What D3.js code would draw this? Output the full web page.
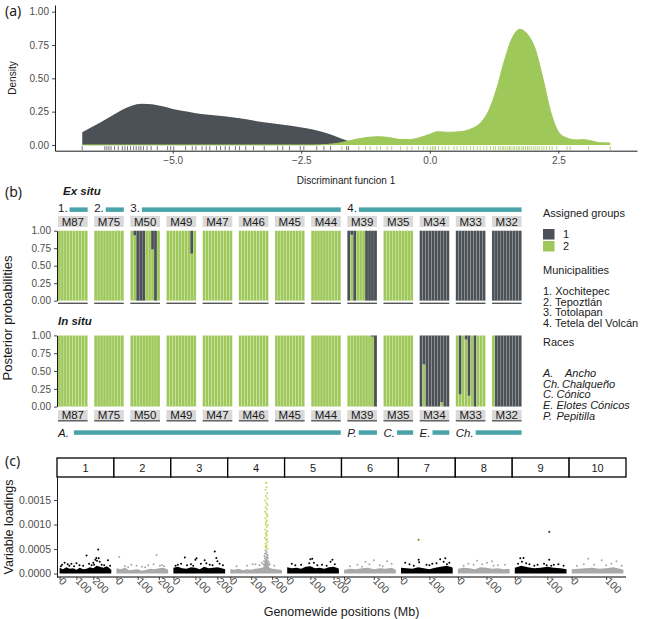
<!DOCTYPE html>
<html lang="en">
  <head>
    <meta charset="utf-8" />
    <title>Discriminant analysis, membership and loadings</title>
    <style>
      body {
        margin: 0;
        background-color: #fff;
      }
      svg {
        display: block;
        font-family: 'Liberation Sans', Arial, sans-serif;
      }
    </style>
  </head>

  <body>
    <div class="container"></div>
    <script src="https://cdn.jsdelivr.net/npm/d3@7"></script>
    <script>
      const darkCol = '#4b5156';
      const greenCol = '#9ec859';
      const tealCol = '#49a3a9';
      const tickCol = '#4d4d4d';

      // ---------- (a) density of discriminant function 1 ----------
      const densGroup1 = [
        [-6.76, 0.095], [-6.6, 0.13], [-6.4, 0.17], [-6.2, 0.215], [-6.0, 0.26],
        [-5.8, 0.295], [-5.6, 0.31], [-5.4, 0.305], [-5.2, 0.29], [-5.0, 0.27],
        [-4.7, 0.25], [-4.4, 0.23], [-4.0, 0.215], [-3.7, 0.2], [-3.3, 0.175],
        [-3.0, 0.16], [-2.7, 0.145], [-2.4, 0.125], [-2.1, 0.1], [-1.9, 0.075],
        [-1.7, 0.045], [-1.5, 0.02], [-1.3, 0.008], [-1.0, 0.002], [-0.5, 0], [3.51, 0],
      ];
      const densGroup2 = [
        [-6.76, 0], [-2.3, 0], [-2.0, 0.004], [-1.8, 0.012], [-1.6, 0.028],
        [-1.4, 0.045], [-1.2, 0.057], [-1.0, 0.062], [-0.8, 0.056], [-0.6, 0.042],
        [-0.4, 0.04], [-0.2, 0.055], [0.0, 0.08], [0.15, 0.1], [0.35, 0.095],
        [0.6, 0.1], [0.8, 0.12], [1.0, 0.17], [1.15, 0.26], [1.3, 0.42],
        [1.45, 0.63], [1.6, 0.8], [1.75, 0.868], [1.9, 0.83], [2.05, 0.72],
        [2.2, 0.5], [2.35, 0.25], [2.5, 0.1], [2.65, 0.055], [2.85, 0.038],
        [3.0, 0.04], [3.15, 0.03], [3.3, 0.017], [3.51, 0.015],
      ];
      const rugGroup1 = [
        -6.76, -6.32, -6.28, -6.24, -6.2, -6.13, -6.06, -5.98, -5.93, -5.88,
        -5.82, -5.76, -5.71, -5.66, -5.62, -5.57, -5.5, -5.42, -5.3, -5.1,
        -5.04, -4.98, -4.75, -4.62, -4.55, -4.43, -4.35, -4.28, -4.15, -4.07,
        -3.98, -3.9, -3.78, -3.7, -3.58, -3.43, -3.22, -2.96, -2.86, -2.73,
        -2.52, -2.45, -2.2, -2.06, -1.93, -1.62, -1.58,
      ];
      const rugGroup2 = [
        -1.71, -1.61, -1.38, -1.25, -1.16, -1.03, -0.96, -0.83, -0.74, -0.57,
        -0.44, -0.35, -0.22, -0.12, -0.05, 0.01, 0.05, 0.08, 0.11, 0.17,
        0.24, 0.3, 0.37, 0.47, 0.53, 0.6, 0.66, 0.72, 0.79, 0.85,
        0.92, 0.98, 1.05, 1.11, 1.18, 1.24, 1.28, 1.34, 1.37, 1.41,
        1.44, 1.48, 1.52, 1.55, 1.58, 1.62, 1.65, 1.69, 1.72, 1.75,
        1.79, 1.82, 1.86, 1.9, 1.93, 1.97, 2.01, 2.05, 2.09, 2.13,
        2.18, 2.22, 2.27, 2.33, 2.38, 2.47, 2.67, 2.73, 3.09, 3.51,
      ];
      const xTicksA = [-5, -2.5, 0, 2.5];
      const yTicksA = [0, 0.25, 0.5, 0.75, 1];

      // ---------- (b) posterior probabilities (share of group 1 per individual) ----------
      const populations = ['M87', 'M75', 'M50', 'M49', 'M47', 'M46', 'M45', 'M44', 'M39', 'M35', 'M34', 'M33', 'M32'];
      const exSituGroup1 = [
        [0, 0, 0, 0, 0, 0, 0, 0, 0, 0],
        [0, 0, 0, 0, 0, 0, 0, 0, 0, 0],
        [0, 0.07, 1, 1, 1, 0, 0, 0.27, 1, 0],
        [0, 0, 0, 0, 0, 0, 0, 0, 0.33, 0],
        [0, 0, 0, 0, 0, 0, 0, 0, 0, 0],
        [0, 0, 0, 0, 0, 0, 0, 0, 0, 0],
        [0, 0, 0, 0, 0, 0, 0, 0, 0, 0],
        [0, 0, 0, 0, 0, 0, 0, 0, 0, 0],
        [1, 0.06, 1, 0, 0, 0, 1, 1, 1, 1],
        [0, 0, 0, 0, 0, 0, 0, 0, 0, 0],
        [1, 1, 1, 1, 1, 1, 1, 1, 1, 1],
        [1, 1, 1, 1, 1, 1, 1, 1, 1, 1],
        [1, 1, 1, 1, 1, 1, 1, 1, 1, 1],
      ];
      const inSituGroup1 = [
        [0, 0, 0, 0, 0, 0, 0, 0, 0, 0],
        [0, 0, 0, 0, 0, 0, 0, 0, 0, 0],
        [0, 0, 0, 0, 0, 0, 0, 0, 0, 0],
        [0, 0, 0, 0, 0, 0, 0, 0, 0, 0],
        [0, 0, 0, 0, 0, 0, 0, 0, 0, 0],
        [0, 0, 0, 0, 0, 0, 0, 0, 0, 0],
        [0, 0, 0, 0, 0, 0, 0, 0, 0, 0],
        [0, 0, 0, 0, 0, 0, 0, 0, 0, 0],
        [0, 0, 0, 0, 0, 0, 0, 0, 0.02, 1],
        [0, 0, 0, 0, 0, 0, 0, 0, 0, 0],
        [1, 0.41, 1, 1, 1, 1, 1, 0.94, 1, 1],
        [0, 0.83, 0, 0.06, 0.85, 0, 1, 0, 0, 0],
        [0, 1, 1, 1, 1, 1, 1, 1, 1, 1],
      ];
      const yTicksB = [0, 0.25, 0.5, 0.75, 1];
      const municipalitySpans = [
        ['1.', 'M87', 'M87'],
        ['2.', 'M75', 'M75'],
        ['3.', 'M50', 'M44'],
        ['4.', 'M39', 'M32'],
      ];
      const raceSpans = [
        ['A.', 'M87', 'M44'],
        ['P.', 'M39', 'M39'],
        ['C.', 'M35', 'M35'],
        ['E.', 'M34', 'M34'],
        ['Ch.', 'M33', 'M32'],
      ];
      const groupLabels = ['1', '2'];
      const municipalityNames = ['1. Xochitepec', '2. Tepoztlán', '3. Totolapan', '4. Tetela del Volcán'];
      const raceAbbrev = ['A.', 'Ch.', 'C.', 'E.', 'P.'];
      const raceNames = ['Ancho', 'Chalqueño', 'Cónico', 'Elotes Cónicos', 'Pepitilla'];

      // ---------- (c) variable loadings along the genome ----------
      const chromosomes = ['1', '2', '3', '4', '5', '6', '7', '8', '9', '10'];
      const chromLength = [307, 244, 235, 247, 223, 174, 182, 181, 159, 150];
      // upper edge of the dense cloud of loadings, [Mb, loading]
      const coreBand = [
        [[0, 1.2e-4], [20, 0.9e-4], [40, 1.3e-4], [60, 1.0e-4], [80, 1.1e-4], [100, 0.8e-4], [120, 1.2e-4], [140, 0.9e-4], [160, 1.0e-4], [180, 1.3e-4], [200, 1.1e-4], [220, 1.6e-4], [240, 1.4e-4], [260, 1.2e-4], [280, 1.5e-4], [300, 1.0e-4], [307, 0.8e-4]],
        [[0, 1.1e-4], [20, 0.9e-4], [40, 1.2e-4], [60, 0.7e-4], [80, 0.8e-4], [100, 0.9e-4], [120, 0.6e-4], [140, 0.8e-4], [160, 1.0e-4], [180, 0.9e-4], [200, 1.1e-4], [220, 1.2e-4], [240, 0.9e-4], [244, 0.7e-4]],
        [[0, 1.2e-4], [20, 1.4e-4], [40, 1.1e-4], [60, 1.0e-4], [80, 1.3e-4], [100, 1.2e-4], [120, 0.9e-4], [140, 1.4e-4], [160, 1.1e-4], [180, 1.2e-4], [200, 1.3e-4], [220, 1.1e-4], [235, 0.9e-4]],
        [[0, 0.9e-4], [20, 0.8e-4], [40, 1.0e-4], [60, 0.7e-4], [80, 0.9e-4], [100, 0.8e-4], [120, 1.0e-4], [140, 1.1e-4], [158, 1.3e-4], [165, 2.6e-4], [172, 3.3e-4], [179, 2.4e-4], [186, 1.2e-4], [200, 1.0e-4], [220, 0.9e-4], [240, 0.8e-4], [247, 0.7e-4]],
        [[0, 1.3e-4], [20, 1.1e-4], [40, 1.2e-4], [60, 1.0e-4], [80, 1.4e-4], [100, 1.5e-4], [120, 1.1e-4], [140, 1.2e-4], [160, 1.0e-4], [180, 1.3e-4], [200, 1.4e-4], [220, 1.1e-4], [223, 0.9e-4]],
        [[0, 0.8e-4], [20, 1.0e-4], [40, 0.9e-4], [60, 1.1e-4], [80, 1.2e-4], [100, 0.9e-4], [120, 1.1e-4], [140, 1.0e-4], [160, 1.2e-4], [174, 0.8e-4]],
        [[0, 1.2e-4], [20, 1.1e-4], [40, 1.0e-4], [60, 1.3e-4], [80, 1.1e-4], [100, 0.9e-4], [120, 1.2e-4], [140, 1.4e-4], [160, 1.6e-4], [180, 1.3e-4], [182, 1.0e-4]],
        [[0, 1.0e-4], [20, 1.2e-4], [40, 1.1e-4], [60, 0.9e-4], [80, 1.3e-4], [100, 1.2e-4], [120, 1.0e-4], [140, 1.1e-4], [160, 0.9e-4], [180, 1.0e-4], [181, 0.8e-4]],
        [[0, 1.2e-4], [20, 1.6e-4], [40, 1.3e-4], [60, 1.1e-4], [80, 1.2e-4], [100, 1.4e-4], [120, 1.2e-4], [140, 1.1e-4], [159, 0.9e-4]],
        [[0, 0.9e-4], [20, 1.0e-4], [40, 1.1e-4], [60, 1.2e-4], [80, 1.0e-4], [100, 1.1e-4], [120, 1.3e-4], [140, 1.0e-4], [150, 0.8e-4]],
      ];
      // individual loadings standing out of the cloud, [Mb, loading]
      const scatterLoadings = [
        [[15, 1.8e-4], [30, 2.2e-4], [48, 1.9e-4], [70, 2.0e-4], [100, 2.1e-4], [118, 1.7e-4], [140, 1.6e-4], [160, 3.7e-4], [175, 2.0e-4], [190, 1.7e-4], [200, 2.2e-4], [212, 2.8e-4], [218, 3.2e-4], [222, 2.6e-4], [229, 4.9e-4], [232, 3.1e-4], [238, 2.4e-4], [250, 1.8e-4], [287, 2.7e-4], [300, 1.6e-4], [8, 1.5e-4], [58, 1.6e-4], [86, 1.5e-4], [205, 1.8e-4], [265, 1.7e-4]],
        [[13, 3.4e-4], [40, 1.5e-4], [70, 1.8e-4], [95, 1.6e-4], [120, 1.4e-4], [150, 1.7e-4], [175, 1.9e-4], [189, 3.8e-4], [205, 1.6e-4], [225, 1.5e-4], [55, 1.3e-4], [135, 1.3e-4], [215, 1.7e-4]],
        [[20, 1.8e-4], [35, 2.0e-4], [52, 3.3e-4], [80, 1.9e-4], [100, 2.8e-4], [105, 3.1e-4], [125, 2.0e-4], [142, 2.7e-4], [150, 2.1e-4], [165, 1.8e-4], [188, 4.5e-4], [195, 3.2e-4], [200, 2.5e-4], [210, 2.0e-4], [225, 1.7e-4], [10, 1.6e-4], [62, 1.7e-4], [90, 1.6e-4], [178, 1.7e-4]],
        [[30, 1.5e-4], [80, 1.6e-4], [107, 1.9e-4], [120, 1.9e-4], [140, 1.7e-4], [150, 2.2e-4], [168, 4.7e-4], [174, 4.4e-4], [166, 4.1e-4], [178, 3.8e-4], [163, 3.6e-4], [173, 3.4e-4], [180, 3.2e-4], [169, 3.0e-4], [177, 2.7e-4], [161, 2.5e-4], [183, 2.4e-4], [185, 2.0e-4], [158, 1.9e-4], [188, 1.8e-4], [210, 1.6e-4], [171, 4.0e-4], [165, 3.1e-4], [176, 3.5e-4]],
        [[20, 2.0e-4], [60, 1.8e-4], [95, 2.1e-4], [100, 2.9e-4], [108, 3.0e-4], [115, 2.2e-4], [150, 1.8e-4], [187, 2.4e-4], [195, 2.8e-4], [205, 1.9e-4], [35, 1.7e-4], [130, 1.7e-4], [170, 1.6e-4]],
        [[20, 1.5e-4], [45, 1.8e-4], [72, 2.4e-4], [85, 1.9e-4], [100, 2.7e-4], [120, 1.7e-4], [145, 2.5e-4], [160, 2.0e-4], [60, 1.4e-4], [130, 1.5e-4]],
        [[15, 2.2e-4], [30, 1.9e-4], [62, 2.8e-4], [64, 2.3e-4], [90, 1.8e-4], [110, 2.0e-4], [125, 2.1e-4], [138, 2.9e-4], [150, 2.4e-4], [156, 3.1e-4], [170, 2.2e-4], [45, 1.6e-4], [100, 1.7e-4], [162, 1.9e-4]],
        [[20, 1.6e-4], [37, 2.0e-4], [55, 1.8e-4], [67, 2.6e-4], [85, 1.9e-4], [102, 2.2e-4], [119, 2.5e-4], [140, 1.7e-4], [165, 1.8e-4], [125, 1.6e-4]],
        [[10, 2.0e-4], [17, 3.1e-4], [22, 2.4e-4], [27, 3.2e-4], [35, 2.1e-4], [45, 1.9e-4], [70, 1.8e-4], [90, 2.0e-4], [106, 2.8e-4], [120, 1.8e-4], [134, 1.9e-4], [150, 1.6e-4], [60, 1.6e-4], [98, 1.7e-4], [112, 1.6e-4]],
        [[15, 1.6e-4], [35, 1.9e-4], [48, 3.0e-4], [65, 1.8e-4], [87, 2.7e-4], [100, 1.7e-4], [115, 2.0e-4], [130, 2.5e-4], [145, 1.6e-4]],
      ];
      // loadings flagged as outliers, [chromosome index, Mb, loading]
      const outlierLoadings = [
        [3, 171, 18.5e-4], [3, 174, 17.6e-4], [3, 168, 17.1e-4], [3, 176, 16.4e-4], [3, 170, 15.8e-4],
        [3, 177, 15.3e-4], [3, 167, 14.9e-4], [3, 173, 14.4e-4], [3, 178, 14.0e-4], [3, 169, 13.5e-4],
        [3, 175, 13.1e-4], [3, 166, 12.6e-4], [3, 172, 12.2e-4], [3, 177, 11.7e-4], [3, 168, 11.3e-4],
        [3, 174, 10.8e-4], [3, 170, 10.4e-4], [3, 179, 9.9e-4], [3, 173, 9.5e-4], [3, 167, 9.0e-4],
        [3, 176, 8.6e-4], [3, 170, 8.2e-4], [3, 174, 7.7e-4], [3, 166, 7.3e-4], [3, 172, 6.9e-4],
        [3, 177, 6.5e-4], [3, 169, 6.1e-4], [3, 174, 5.7e-4], [3, 171, 5.3e-4], [3, 178, 5.0e-4],
        [3, 175, 12.0e-4], [3, 169, 10.0e-4], [3, 172, 8.0e-4], [3, 176, 7.0e-4], [3, 168, 5.5e-4],
        [6, 62, 6.9e-4],
        [8, 106, 8.5e-4],
      ];
      const outlierColors = ['#c9d65c', '#6e7f2c', '#3f4a22'];
      const yTicksC = [0, 0.0005, 0.001, 0.0015];
      const xTicksC = [0, 100, 200];

      const svg = d3.select('div.container').append('svg').attr('width', 647).attr('height', 619);

      function label(x, y, txt, o = {}) {
        const t = svg
          .append('text')
          .attr('x', x)
          .attr('y', y)
          .text(txt)
          .style('font-size', (o.size || 11) + 'px')
          .attr('fill', o.fill || '#1a1a1a');
        if (o.anchor) t.attr('text-anchor', o.anchor);
        if (o.italic) t.style('font-style', 'italic');
        if (o.bold) t.style('font-weight', 'bold');
        if (o.family) t.style('font-family', o.family);
        if (o.rotate) t.attr('transform', `rotate(${o.rotate},${x},${y})`);
        return t;
      }

      function styleAxis(g, size) {
        g.selectAll('path').attr('stroke', '#000').attr('stroke-width', 0.9);
        g.selectAll('line').attr('stroke', '#333').attr('stroke-width', 0.9);
        g.selectAll('text').attr('fill', tickCol).style('font-size', size + 'px').style('font-family', "'Liberation Sans', Arial, sans-serif");
      }

      // ===== panel (a) =====
      const xA = d3.scaleLinear().domain([-7.29, 4.03]).range([55, 637]);
      const yA = d3.scaleLinear().domain([-0.043, 1.05]).range([150.7, 5]);

      const areaA = d3
        .area()
        .x((d) => xA(d[0]))
        .y0(yA(0))
        .y1((d) => yA(d[1]))
        .curve(d3.curveMonotoneX);
      const lineA = d3
        .line()
        .x((d) => xA(d[0]))
        .y((d) => yA(d[1]))
        .curve(d3.curveMonotoneX);

      svg.append('path').datum(densGroup1).attr('d', areaA).attr('fill', darkCol);
      svg.append('path').datum(densGroup2).attr('d', areaA).attr('fill', greenCol);
      svg.append('path').datum(densGroup2).attr('d', lineA).attr('fill', 'none').attr('stroke', greenCol).attr('stroke-width', 1);

      svg
        .append('g')
        .selectAll('line')
        .data(rugGroup1)
        .join('line')
        .attr('x1', (d) => xA(d))
        .attr('x2', (d) => xA(d))
        .attr('y1', 146.2)
        .attr('y2', 150.2)
        .attr('stroke', darkCol)
        .attr('stroke-width', 0.8);
      svg
        .append('g')
        .selectAll('line')
        .data(rugGroup2)
        .join('line')
        .attr('x1', (d) => xA(d))
        .attr('x2', (d) => xA(d))
        .attr('y1', 146.2)
        .attr('y2', 150.2)
        .attr('stroke', greenCol)
        .attr('stroke-width', 0.8);

      const axAy = svg
        .append('g')
        .attr('transform', 'translate(55,0)')
        .call(d3.axisLeft(yA).tickValues(yTicksA).tickFormat(d3.format('.2f')).tickSize(3).tickSizeOuter(0));
      styleAxis(axAy, 10);
      const axAx = svg
        .append('g')
        .attr('transform', 'translate(0,150.7)')
        .call(d3.axisBottom(xA).tickValues(xTicksA).tickFormat(d3.format('.1f')).tickSize(3).tickSizeOuter(0));
      styleAxis(axAx, 10);

      label(16, 78, 'Density', { size: 10, anchor: 'middle', rotate: -90 });
      label(346, 184, 'Discriminant funcion 1', { size: 10, anchor: 'middle' });
      label(5, 16, '(a)', { size: 14, family: "'Noto Sans', sans-serif" });

      // ===== panel (b) =====
      const panelX = d3.scaleBand().domain(populations).range([58, 521.6]).paddingInner(0.18).paddingOuter(0);
      const barX = d3.scaleBand().domain(d3.range(10)).range([0, panelX.bandwidth()]);
      const yEx = d3.scaleLinear().domain([0, 1]).range([300.7, 230.7]);
      const yIn = d3.scaleLinear().domain([0, 1]).range([406.6, 335.4]);

      function drawMembership(values, y) {
        populations.forEach((pop, i) => {
          const g = svg.append('g').attr('transform', `translate(${panelX(pop)},0)`);
          const bars = g.selectAll('g').data(values[i]).join('g');
          bars
            .append('rect')
            .attr('x', (d, j) => barX(j))
            .attr('width', barX.bandwidth())
            .attr('y', (d) => y(1 - d))
            .attr('height', (d) => y(0) - y(1 - d))
            .attr('fill', greenCol)
            .attr('stroke', '#fff')
            .attr('stroke-opacity', 0.6)
            .attr('stroke-width', 0.35);
          bars
            .append('rect')
            .attr('x', (d, j) => barX(j))
            .attr('width', barX.bandwidth())
            .attr('y', y(1))
            .attr('height', (d) => y(1 - d) - y(1))
            .attr('fill', darkCol)
            .attr('stroke', '#fff')
            .attr('stroke-opacity', 0.35)
            .attr('stroke-width', 0.35);
        });
        const ax = svg
          .append('g')
          .attr('transform', 'translate(57,0)')
          .call(d3.axisLeft(y).tickValues(yTicksB).tickFormat(d3.format('.2f')).tickSize(3).tickSizeOuter(0));
        styleAxis(ax, 10);
      }

      function drawStrips(y0, h, bottomLine) {
        populations.forEach((pop) => {
          svg.append('rect').attr('x', panelX(pop)).attr('y', y0).attr('width', panelX.bandwidth()).attr('height', h).attr('fill', '#d9d9d9');
          label(panelX(pop) + panelX.bandwidth() / 2, y0 + h / 2 + 4, pop, { size: 11.5, anchor: 'middle' });
          svg
            .append('line')
            .attr('x1', panelX(pop))
            .attr('x2', panelX(pop) + panelX.bandwidth())
            .attr('y1', bottomLine)
            .attr('y2', bottomLine)
            .attr('stroke', '#555')
            .attr('stroke-width', 1.4);
        });
      }

      function drawSpans(spans, yText, yBar, italic) {
        spans.forEach(([lab, first, last]) => {
          const t = label(panelX(first), yText, lab, { size: 11.5, italic: italic });
          const x0 = panelX(first) + t.node().getComputedTextLength() + (lab === 'A.' ? 5 : 2);
          const x1 = panelX(last) + panelX.bandwidth();
          svg.append('rect').attr('x', x0).attr('y', yBar).attr('width', x1 - x0).attr('height', 4.5).attr('fill', tealCol);
        });
      }

      label(5, 197, '(b)', { size: 14, family: "'Noto Sans', sans-serif" });
      label(63, 194.5, 'Ex situ', { size: 11.5, italic: true, bold: true });
      drawSpans(municipalitySpans, 212, 207.4, false);
      drawStrips(216, 11, 303.3);
      drawMembership(exSituGroup1, yEx);

      label(58, 324.5, 'In situ', { size: 11.5, italic: true, bold: true });
      drawMembership(inSituGroup1, yIn);
      drawStrips(410, 10, 420.8);
      drawSpans(raceSpans, 437, 430.3, true);

      label(12, 318, 'Posterior probabilities', { size: 13, anchor: 'middle', rotate: -90 });

      // legend
      label(543, 217, 'Assigned groups', { size: 11 });
      [darkCol, greenCol].forEach((c, i) => {
        svg.append('rect').attr('x', 543).attr('y', 229 + i * 12).attr('width', 11.5).attr('height', 10.5).attr('fill', c);
        label(563, 238 + i * 12, groupLabels[i], { size: 11 });
      });
      label(543, 274, 'Municipalities', { size: 11 });
      municipalityNames.forEach((m, i) => label(543, 295 + i * 10.7, m, { size: 11 }));
      label(543, 346, 'Races', { size: 11 });
      raceAbbrev.forEach((r, i) => {
        label(543, 377 + i * 10.7, r, { size: 11, italic: true });
        label(r === 'A.' ? 565 : r === 'Ch.' ? 562 : 556.5, 377 + i * 10.7, raceNames[i], { size: 11, italic: true });
      });

      // ===== panel (c) =====
      const chromX = d3.scaleBand().domain(chromosomes).range([57, 626]).padding(0);
      const yC = d3.scaleLinear().domain([-0.00007, 0.00197]).range([577, 477]);
      const innerX = chromosomes.map((c, i) =>
        d3
          .scaleLinear()
          .domain([-0.05 * chromLength[i], 1.05 * chromLength[i]])
          .range([chromX(c), chromX(c) + chromX.bandwidth()]),
      );

      chromosomes.forEach((c, i) => {
        const col = i % 2 === 0 ? '#000' : '#a9a9a9';
        const x = innerX[i];
        svg
          .append('path')
          .datum(coreBand[i])
          .attr(
            'd',
            d3
              .area()
              .x((d) => x(d[0]))
              .y0(yC(0))
              .y1((d) => yC(d[1])),
          )
          .attr('fill', col);
        svg
          .append('g')
          .selectAll('circle')
          .data(scatterLoadings[i])
          .join('circle')
          .attr('cx', (d) => x(d[0]))
          .attr('cy', (d) => yC(d[1]))
          .attr('r', 1)
          .attr('fill', col);

        const ax = svg
          .append('g')
          .attr('transform', 'translate(0,577)')
          .call(
            d3
              .axisBottom(x)
              .tickValues(xTicksC.filter((t) => t <= chromLength[i]))
              .tickSize(3)
              .tickSizeOuter(0),
          );
        ax.select('.domain').remove();
        styleAxis(ax, 10.5);
        ax.selectAll('text').attr('text-anchor', 'start').attr('x', 2).attr('y', 1).attr('dy', '0.35em').attr('transform', 'rotate(45)');

        svg
          .append('rect')
          .attr('x', chromX(c))
          .attr('y', 458)
          .attr('width', chromX.bandwidth())
          .attr('height', 19)
          .attr('fill', '#fff')
          .attr('stroke', '#000')
          .attr('stroke-width', 1.3);
        label(chromX(c) + chromX.bandwidth() / 2, 471.5, c, { size: 11, anchor: 'middle' });
      });

      svg
        .append('g')
        .selectAll('circle')
        .data(outlierLoadings)
        .join('circle')
        .attr('cx', (d) => innerX[d[0]](d[1]))
        .attr('cy', (d) => yC(d[2]))
        .attr('r', 1.05)
        .attr('fill', (d) => (d[0] === 3 ? outlierColors[0] : d[0] === 6 ? outlierColors[1] : outlierColors[2]));

      svg.append('line').attr('x1', 57).attr('x2', 626).attr('y1', 577).attr('y2', 577).attr('stroke', '#000').attr('stroke-width', 1);
      const axCy = svg
        .append('g')
        .attr('transform', 'translate(57,0)')
        .call(d3.axisLeft(yC).tickValues(yTicksC).tickFormat(d3.format('.4f')).tickSize(3).tickSizeOuter(0));
      styleAxis(axCy, 10.5);

      label(13, 527, 'Variable loadings', { size: 12.5, anchor: 'middle', rotate: -90 });
      label(341.5, 616, 'Genomewide positions (Mb)', { size: 12.5, anchor: 'middle' });
      label(5, 466, '(c)', { size: 14, family: "'Noto Sans', sans-serif" });
    </script>
  </body>
</html>
